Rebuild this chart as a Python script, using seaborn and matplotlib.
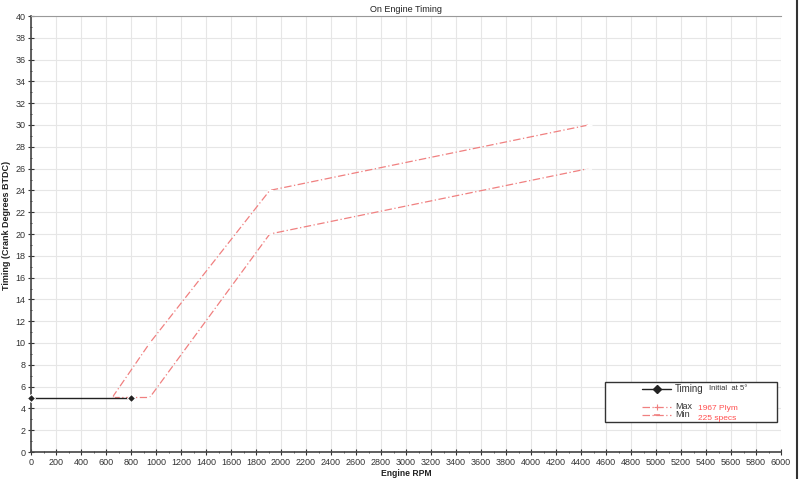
import matplotlib
matplotlib.use("Agg")
import matplotlib.pyplot as plt
import seaborn as sns
import pandas as pd
from matplotlib.ticker import MultipleLocator
from matplotlib.lines import Line2D

timing_rpm = [0, 800]
timing_deg = [5, 5]
max_rpm = [650, 950, 1910, 4460]
max_deg = [5, 10, 24, 30]
min_rpm = [650, 950, 1910, 4460]
min_deg = [5, 5, 20, 26]

sns.set_theme(style="whitegrid")
plt.rcParams['font.family'] = ['Liberation Sans', 'DejaVu Sans']

fig = plt.figure(figsize=(8, 4.79), dpi=100)
ax = fig.add_axes([31/800, 27/479, 750/800, 436/479])

red = "#f08080"
df_t = pd.DataFrame({"rpm": timing_rpm, "deg": timing_deg})
df_max = pd.DataFrame({"rpm": max_rpm, "deg": max_deg})
df_min = pd.DataFrame({"rpm": min_rpm, "deg": min_deg})

sns.lineplot(data=df_max, x="rpm", y="deg", ax=ax, color=red, lw=0.9,
             linestyle=(0, (6, 2, 1, 2)), marker="+", markersize=5, mew=0.8, sort=False)
sns.lineplot(data=df_min, x="rpm", y="deg", ax=ax, color=red, lw=0.9,
             linestyle=(0, (6, 2, 1, 2)), marker="_", markersize=5, mew=1.2, sort=False)
sns.lineplot(data=df_t, x="rpm", y="deg", ax=ax, color="#222222", lw=1.0,
             marker="D", markersize=4, sort=False, clip_on=False, zorder=5)

ax.set_xlim(0, 6000)
ax.set_ylim(0, 40)
ax.xaxis.set_major_locator(MultipleLocator(200))
ax.xaxis.set_minor_locator(MultipleLocator(100))
ax.yaxis.set_major_locator(MultipleLocator(2))
ax.yaxis.set_minor_locator(MultipleLocator(1))
ax.grid(True, which="major", color="#e6e6e6", lw=0.8)
ax.grid(False, which="minor")
ax.tick_params(axis="both", which="major", labelsize=6.5, length=4, width=0.8,
               color="#333333", direction="inout", pad=2, labelcolor="#333333")
ax.tick_params(axis="both", which="minor", length=2, width=0.6, color="#333333",
               direction="inout")
ax.tick_params(bottom=True, left=True, which="both")
for s in ["left", "bottom"]:
    ax.spines[s].set_color("#444444")
    ax.spines[s].set_linewidth(1.2)
ax.spines["top"].set_color("#999999")
ax.spines["top"].set_linewidth(0.8)
ax.spines["right"].set_visible(False)

ax.set_xlabel("Engine RPM", fontsize=6.2, fontweight="bold", labelpad=2, color="#222222")
ax.set_ylabel("Timing (Crank Degrees BTDC)", fontsize=6.5, fontweight="bold", labelpad=3,
              color="#222222")
ax.yaxis.set_label_coords(-0.027, 0.52)
ax.set_title("On Engine Timing", fontsize=6.5, pad=3, color="#222222")

# legend box
lx0, ly0, lw_, lh_ = 605/800, (479-422)/479, 172/800, 40/479
fig.patches.append(plt.Rectangle((lx0, ly0), lw_, lh_, transform=fig.transFigure,
                                 facecolor="white", edgecolor="#333333", lw=1.0))
def fx(p): return p/800
def fy(p): return (479-p)/479
fig.add_artist(Line2D([fx(642), fx(671)], [fy(389), fy(389)], color="#222222", lw=1.0,
                      transform=fig.transFigure))
fig.add_artist(Line2D([fx(657)], [fy(389)], color="#222222", marker="D", markersize=4,
                      transform=fig.transFigure))
fig.text(fx(675), fy(389), "Timing", fontsize=7, va="center", color="#333333")
fig.text(fx(709), fy(389), "Initial  at 5°", fontsize=5.5, va="center", color="#333333")
fig.add_artist(Line2D([fx(642), fx(671)], [fy(407), fy(407)], color=red, lw=0.9,
                      linestyle=(0, (6, 2, 1, 2)), transform=fig.transFigure))
fig.add_artist(Line2D([fx(657)], [fy(407)], color=red, marker="+", markersize=5, mew=0.8,
                      transform=fig.transFigure))
fig.add_artist(Line2D([fx(642), fx(671)], [fy(415), fy(415)], color=red, lw=0.9,
                      linestyle=(0, (6, 2, 1, 2)), transform=fig.transFigure))
fig.add_artist(Line2D([fx(657)], [fy(415)], color=red, marker="_", markersize=5, mew=1.2,
                      transform=fig.transFigure))
fig.text(fx(675), fy(406.5), "Max", fontsize=6.5, va="center", color="#333333")
fig.text(fx(675), fy(414.5), "Min", fontsize=6.5, va="center", color="#333333")
fig.text(fx(698), fy(408), "1967 Plym", fontsize=6, va="center", color="#ff5050")
fig.text(fx(698), fy(418), "225 specs", fontsize=6, va="center", color="#ff5050")

# right frame border
fig.add_artist(Line2D([fx(797), fx(797)], [0, 1], color="#333333", lw=1.5,
                      transform=fig.transFigure))

fig.savefig("out.png", dpi=100)
